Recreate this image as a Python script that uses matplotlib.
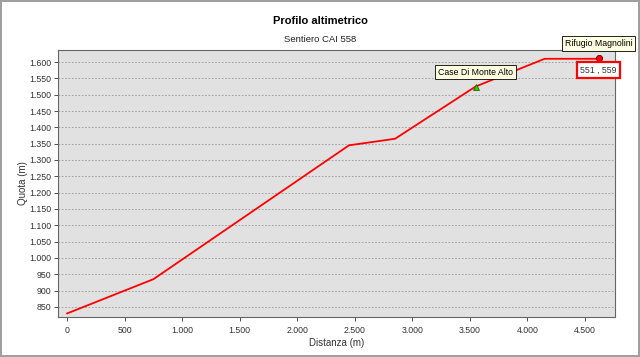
import matplotlib.pyplot as plt
from matplotlib.ticker import FuncFormatter

plt.rcParams["font.family"] = ["Liberation Sans", "DejaVu Sans"]

# profile data
dist = [0, 750, 2450, 2850, 3550, 4150, 4620]
quota = [830, 935, 1345, 1365, 1525, 1610, 1610]

# waypoints
wp_name = ["Case Di Monte Alto", "Rifugio Magnolini"]
wp_dist = [3550, 4620]
wp_quota = [1525, 1613]

yticks = list(range(850, 1601, 50))
xticks = list(range(0, 4501, 500))


def dotted(v, pos):
    return f"{int(v):,}".replace(",", ".")


fig = plt.figure(figsize=(6.4, 3.57), dpi=100)
fig.patch.set_edgecolor("#a0a0a0")
fig.patch.set_linewidth(1.5)

ax = fig.add_axes([0.0906, 0.112, 0.870, 0.748])
ax.set_facecolor("#e1e1e1")
ax.plot(dist, quota, color="red", lw=1.3, zorder=3)

# waypoint markers
ax.plot(wp_dist[0], wp_quota[0], marker="^", ms=5, color="#33cc00",
        mec="#226600", mew=0.6, zorder=4)
ax.plot(wp_dist[1], wp_quota[1], marker="o", ms=4.5, color="red",
        mec="#660000", mew=0.6, zorder=4)

box = dict(boxstyle="square,pad=0.3", fc="#ffffe1", ec="black", lw=0.6)
ax.annotate(wp_name[0], (wp_dist[0], wp_quota[0]), xytext=(0, 7),
            textcoords="offset points", ha="center", va="bottom",
            fontsize=6.3, bbox=box, zorder=5)
ax.annotate(wp_name[1], (wp_dist[1], wp_quota[1]), xytext=(0, 7),
            textcoords="offset points", ha="center", va="bottom",
            fontsize=6.3, bbox=box, annotation_clip=False, zorder=5)
ax.annotate("551 , 559", (wp_dist[1], wp_quota[1]), xytext=(0, -5.5),
            textcoords="offset points", ha="center", va="top",
            fontsize=6.3, color="#333333", annotation_clip=False,
            bbox=dict(boxstyle="square,pad=0.35", fc="white", ec="red", lw=1.6),
            zorder=5)

ax.set_xlim(-80, 4760)
ax.set_ylim(819, 1637)
ax.set_xticks(xticks)
ax.set_yticks(yticks)
ax.xaxis.set_major_formatter(FuncFormatter(dotted))
ax.yaxis.set_major_formatter(FuncFormatter(dotted))
ax.tick_params(labelsize=6.3, length=3, width=0.6, colors="#333333")
ax.tick_params(axis="y", pad=2)
ax.grid(axis="y", color="#999999", ls=(0, (2, 2)), lw=0.6)
ax.set_axisbelow(True)
for s in ax.spines.values():
    s.set_color("#666666")
    s.set_linewidth(0.8)

ax.set_xlabel("Distanza (m)", fontsize=7, color="#333333", labelpad=2)
ax.set_ylabel("Quota (m)", fontsize=7, color="#333333", labelpad=1)

fig.text(0.5, 0.942, "Profilo altimetrico", ha="center", va="center",
         fontsize=8, fontweight="bold")
fig.text(0.5, 0.888, "Sentiero CAI 558", ha="center", va="center",
         fontsize=6.8, color="#222222")

fig.savefig("out.png", dpi=100, edgecolor=fig.get_edgecolor())
